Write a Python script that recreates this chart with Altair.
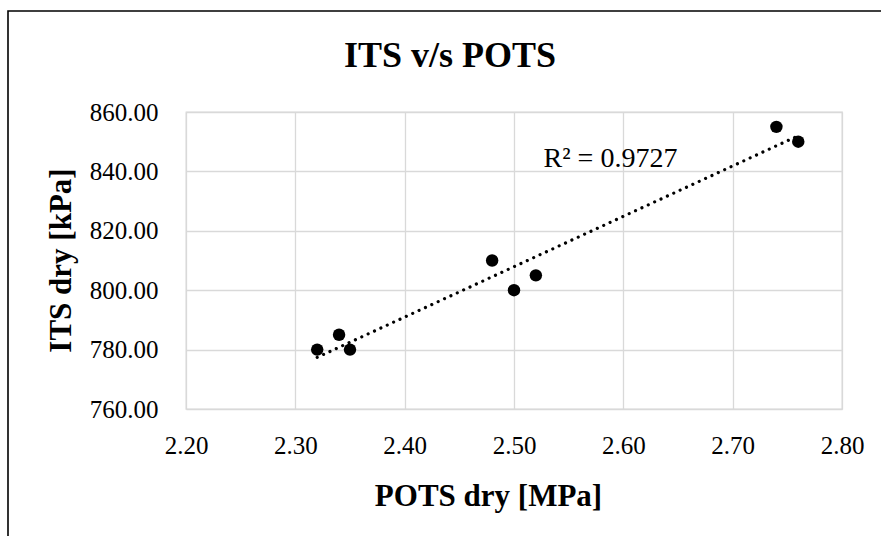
import altair as alt
import pandas as pd

# Data
pots_dry = [2.32, 2.34, 2.35, 2.48, 2.50, 2.52, 2.74, 2.76]
its_dry = [780, 785, 780, 810, 800, 805, 855, 850]
x_ticks = [2.20, 2.30, 2.40, 2.50, 2.60, 2.70, 2.80]
y_ticks = [760, 780, 800, 820, 840, 860]
r2_label = "R² = 0.9727"
r2_pos_x = 2.527
r2_pos_y = 841.5

df = pd.DataFrame({"POTS": pots_dry, "ITS": its_dry})

FONT = "Liberation Serif"
W, H = 656, 297
PAD_L, PAD_T = 186, 112
PAD_R = 881 - PAD_L - W
PAD_B = 536 - PAD_T - H

xscale = alt.Scale(domain=[2.2, 2.8], nice=False, zero=False)
yscale = alt.Scale(domain=[760, 860], nice=False, zero=False)

xaxis = alt.Axis(
    values=x_ticks, format=".2f", title="POTS dry [MPa]",
    labelPadding=24, titleX=302, titleY=96,
    titleAlign="center", titleBaseline="alphabetic",
)
yaxis = alt.Axis(
    values=y_ticks, format=".2f", title="ITS dry [kPa]",
    labelPadding=28, titleX=-116, titleY=148,
    titleAlign="center", titleBaseline="alphabetic", titleAngle=270,
)

base = alt.Chart(df)

frame = alt.Chart(pd.DataFrame({"a": [0]})).mark_rect(
    fill=None, stroke="#000", strokeWidth=1.6
).encode(
    x=alt.value(8 - PAD_L), x2=alt.value(W + PAD_R + 20),
    y=alt.value(11 - PAD_T), y2=alt.value(H + PAD_B + 20),
)

points = base.mark_circle(size=155, color="#000", opacity=1).encode(
    x=alt.X("POTS:Q", scale=xscale, axis=xaxis),
    y=alt.Y("ITS:Q", scale=yscale, axis=yaxis),
)

trend = base.transform_regression("POTS", "ITS").mark_line(
    color="#000", strokeWidth=3.2, strokeDash=[0.01, 7], strokeCap="round"
).encode(
    x=alt.X("POTS:Q", scale=xscale, axis=xaxis),
    y=alt.Y("ITS:Q", scale=yscale, axis=yaxis),
)

r2 = alt.Chart(pd.DataFrame({"t": [r2_label]})).mark_text(
    font=FONT, fontSize=28, color="#000", align="left", baseline="alphabetic"
).encode(
    x=alt.datum(r2_pos_x),
    y=alt.datum(r2_pos_y),
    text="t:N",
)

chart = alt.layer(frame, points, trend, r2).properties(
    width=W, height=H,
    background="white",
    title=alt.TitleParams(
        "ITS v/s POTS", font=FONT, fontSize=36, fontWeight="bold",
        color="#000", anchor="middle", dx=-64, offset=-93,
        baseline="alphabetic",
    ),
    autosize=alt.AutoSizeParams(type="none"),
    padding={"left": PAD_L, "top": PAD_T, "right": PAD_R, "bottom": PAD_B},
).configure_view(
    stroke="#d9d9d9", strokeWidth=1.3
).configure_axis(
    domain=False, ticks=False, labelFlush=False,
    labelFont=FONT, labelFontSize=25, labelColor="#000",
    titleFont=FONT, titleFontSize=31, titleFontWeight="bold", titleColor="#000",
    gridColor="#d9d9d9", gridWidth=1.3,
)

chart.save("out.html", embed_options={"renderer": "svg", "actions": False})
